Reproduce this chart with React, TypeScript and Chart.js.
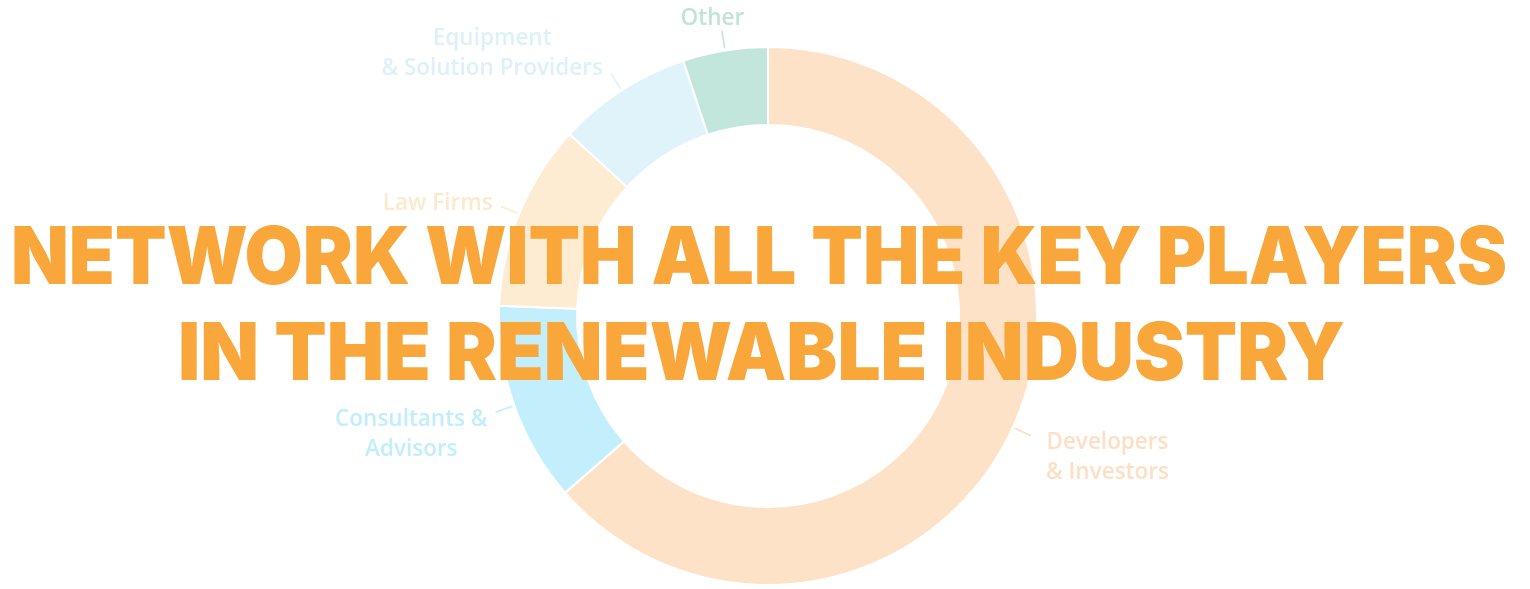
import React, { useEffect, useRef } from "react";
import { Chart, registerables } from "chart.js";

Chart.register(...registerables);

const categories: string[][] = [
  ["Developers", "& Investors"],
  ["Consultants &", "Advisors"],
  ["Law Firms"],
  ["Equipment", "& Solution Providers"],
  ["Other"],
];
const shares: number[] = [63.6, 12.0, 11.2, 8.1, 5.1];
const sliceColors: string[] = ["#fde2c8", "#c3effc", "#feecd2", "#e0f3fa", "#c2e6dc"];
const labelColors: string[] = ["#fddfc4", "#c0eefc", "#fdeacd", "#dcf1fa", "#bfe4d8"];
const titleLines: string[] = ["NETWORK WITH ALL THE KEY PLAYERS", "IN THE RENEWABLE INDUSTRY"];

const outerLabelsPlugin = {
  id: "outerLabels",
  afterDatasetsDraw(chart: any) {
    const ctx = chart.ctx as CanvasRenderingContext2D;
    const meta = chart.getDatasetMeta(0);
    ctx.save();
    ctx.font = "600 22.5px 'Open Sans'";
    meta.data.forEach((arc: any, i: number) => {
      const { x, y, startAngle, endAngle, outerRadius } = arc.getProps(
        ["x", "y", "startAngle", "endAngle", "outerRadius"],
        true
      );
      const mid = (startAngle + endAngle) / 2;
      const c = Math.cos(mid);
      const s = Math.sin(mid);
      const p1x = x + (outerRadius + 2) * c;
      const p1y = y + (outerRadius + 2) * s;
      const p2x = x + (outerRadius + 20) * c;
      const p2y = y + (outerRadius + 20) * s;
      const color = labelColors[i];
      ctx.strokeStyle = color;
      ctx.lineWidth = 1.5;
      ctx.beginPath();
      ctx.moveTo(p1x, p1y);
      ctx.lineTo(p2x, p2y);
      ctx.stroke();

      const lines = categories[i];
      const lh = 30;
      const maxW = Math.max(...lines.map((l) => ctx.measureText(l).width));
      let cx: number;
      if (Math.abs(c) < 0.3) {
        cx = p2x + c * 60;
      } else if (c < 0) {
        cx = p2x - 8 - maxW / 2;
      } else {
        cx = p2x + 15 + maxW / 2;
      }
      let firstY: number;
      if (s < 0) {
        const lastY = p2y - (Math.abs(c) < 0.3 ? 12 : Math.abs(c) > 0.8 ? 3 : 5);
        firstY = lastY - (lines.length - 1) * lh;
      } else {
        firstY = p2y + 7;
      }
      ctx.fillStyle = color;
      ctx.textAlign = "center";
      ctx.textBaseline = "middle";
      lines.forEach((ln, j) => ctx.fillText(ln, cx, firstY + j * lh));
    });
    ctx.restore();
  },
};

const titleTargets: number[] = [1496, 1167];

const titlePlugin = {
  id: "bigTitle",
  afterDraw(chart: any) {
    const ctx = chart.ctx as CanvasRenderingContext2D;
    ctx.save();
    ctx.font = "900 80px Inter";
    ctx.fillStyle = "#f9a63a";
    ctx.textBaseline = "alphabetic";
    ctx.textAlign = "center";
    const centers = [759, 761.5];
    const baselines = [284, 380];
    titleLines.forEach((t, i) => {
      const w = ctx.measureText(t).width;
      const sx = titleTargets[i] / w;
      ctx.save();
      ctx.translate(centers[i], baselines[i]);
      ctx.scale(sx, 1);
      ctx.fillText(t, 0, 0);
      ctx.restore();
    });
    ctx.restore();
  },
};

export default function App() {
  const canvasRef = useRef<HTMLCanvasElement | null>(null);

  useEffect(() => {
    document.body.style.margin = "0";
    const canvas = canvasRef.current;
    if (!canvas) return;
    const chart = new Chart(canvas, {
      type: "doughnut",
      data: {
        labels: categories.map((l) => l.join(" ")),
        datasets: [
          {
            data: shares,
            backgroundColor: sliceColors,
            borderColor: "#ffffff",
            borderWidth: 2,
            hoverOffset: 0,
          },
        ],
      },
      options: {
        animation: false,
        responsive: true,
        maintainAspectRatio: false,
        cutout: "71%",
        layout: { padding: { top: 46, bottom: 3, left: 6, right: 0 } },
        plugins: {
          legend: { display: false },
          tooltip: { enabled: false },
          title: { display: false },
        },
      },
      plugins: [outerLabelsPlugin, titlePlugin],
    });
    return () => chart.destroy();
  }, []);

  return (
    <div style={{ position: "fixed", left: 0, top: 0, width: 1530, height: 589, background: "#ffffff" }}>
      <canvas ref={canvasRef} />
    </div>
  );
}
